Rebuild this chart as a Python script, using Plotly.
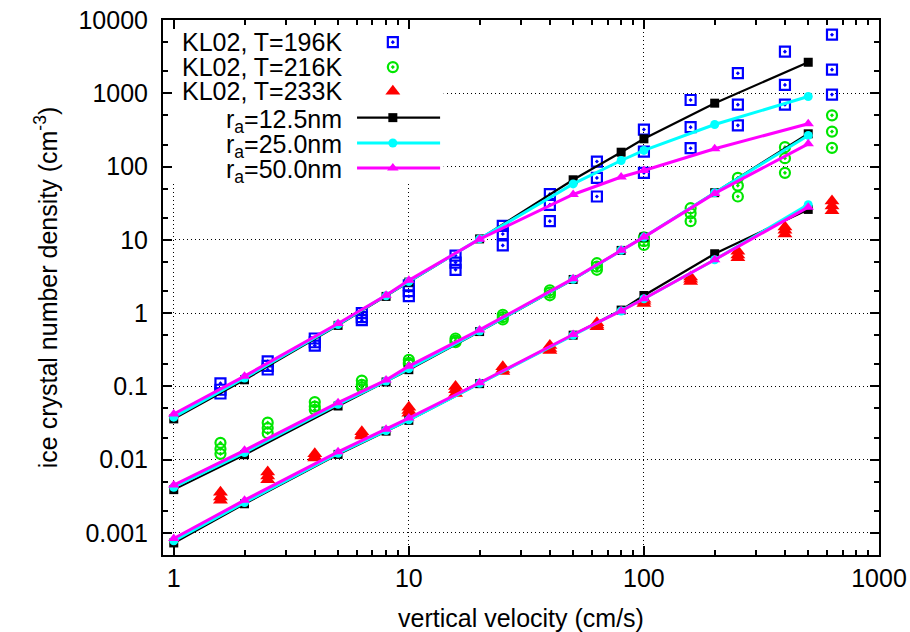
import math
import plotly.graph_objects as go

# ---------------- data ----------------
model_x = [1, 2, 5, 8, 10, 20, 50, 80, 100, 200, 500]

# T = 196K curves
m125_196 = [0.036, 0.123, 0.68, 1.69, 2.65, 10.3, 66, 157, 239, 733, 2650]
m250_196 = [0.038, 0.130, 0.70, 1.72, 2.70, 10.3, 58, 121, 166, 375, 904]
m500_196 = [0.042, 0.138, 0.72, 1.75, 2.80, 10.2, 41.6, 72, 88.5, 175, 384]
# T = 216K curves
m125_216 = [0.0039, 0.0117, 0.054, 0.115, 0.169, 0.56, 2.88, 7.17, 10.9, 44, 280]
m250_216 = [0.0042, 0.0125, 0.057, 0.118, 0.175, 0.57, 2.90, 7.20, 10.9, 44, 266]
m500_216 = [0.0045, 0.0134, 0.060, 0.122, 0.189, 0.59, 2.95, 7.20, 10.9, 43, 204]
# T = 233K curves
m125_233 = [0.00073, 0.0025, 0.0118, 0.0245, 0.0344, 0.109, 0.50, 1.10, 1.74, 6.46, 26.0]
m250_233 = [0.00078, 0.0026, 0.0122, 0.0250, 0.0350, 0.110, 0.50, 1.07, 1.57, 5.35, 30.2]
m500_233 = [0.00084, 0.0028, 0.0128, 0.0260, 0.0370, 0.112, 0.51, 1.07, 1.57, 5.35, 27.9]

# KL02 observations (several values per velocity)
obs_x = [1.58, 2.51, 3.98, 6.31, 10, 15.8, 25.1, 39.8, 63.1, 100, 158, 251, 398, 631]
obs_196 = [[0.11, 0.09, 0.08], [0.22, 0.19, 0.17], [0.45, 0.40, 0.36], [1.0, 0.88, 0.80],
           [2.4, 2.0, 1.7], [6.1, 4.9, 3.9], [15.5, 12, 8.4], [42, 30, 18],
           [117, 70, 39], [320, 160, 82], [810, 345, 178], [1880, 700, 365],
           [3700, 1300, 700], [6300, 2100, 960]]
obs_216 = [[0.017, 0.014, 0.012], [0.032, 0.027, 0.023], [0.061, 0.053, 0.048],
           [0.12, 0.105, 0.097], [0.23, 0.21, 0.20], [0.45, 0.42, 0.40],
           [0.95, 0.88, 0.82], [2.05, 1.9, 1.75], [4.8, 4.3, 3.9], [10.8, 9.6, 8.5],
           [27, 23, 18], [70, 55, 39], [184, 130, 82], [500, 300, 180]]
obs_233 = [[0.0036, 0.0031, 0.0028], [0.0068, 0.0060, 0.0053], [0.012, 0.011, 0.0105],
           [0.024, 0.022, 0.021], [0.052, 0.047, 0.043], [0.10, 0.09, 0.08],
           [0.185, 0.17, 0.16], [0.36, 0.33, 0.31], [0.74, 0.69, 0.65],
           [1.55, 1.45, 1.35], [3.1, 2.9, 2.7], [7.0, 6.2, 5.7], [15, 13.5, 12],
           [34, 29, 25]]

x_tick_vals = [1, 10, 100, 1000]
x_tick_text = ["1", "10", "100", "1000"]
y_tick_vals = [0.001, 0.01, 0.1, 1, 10, 100, 1000, 10000]
y_tick_text = ["0.001", "0.01", "0.1", "1", "10", "100", "1000", "10000"]

legend_names = ["KL02, T=196K", "KL02, T=216K", "KL02, T=233K",
                "r<sub>a</sub>=12.5nm", "r<sub>a</sub>=25.0nm", "r<sub>a</sub>=50.0nm"]

# ---------------- styles ----------------
FONT = "Liberation Sans, Arial, Helvetica, sans-serif"
BLUE, GREEN, RED = "#0000ff", "#00e600", "#ff0000"
BLACK, CYAN, MAGENTA = "#000000", "#00ffff", "#ff00ff"

X_RANGE = [math.log10(0.9), 3]
Y_RANGE = [math.log10(0.0005), 4]

obs_styles = [
    dict(symbol="square-open-dot", size=10, color=BLUE, line=dict(width=2.2, color=BLUE)),
    dict(symbol="circle-open-dot", size=10, color=GREEN, line=dict(width=2.2, color=GREEN)),
    dict(symbol="triangle-up", size=13, color=RED, line=dict(width=0)),
]
model_styles = [
    (dict(color=BLACK, width=2.2), dict(symbol="square", size=9, color=BLACK)),
    (dict(color=CYAN, width=3), dict(symbol="circle", size=9, color=CYAN)),
    (dict(color=MAGENTA, width=3), dict(symbol="triangle-up", size=10, color=MAGENTA)),
]


def flatten(xs, groups):
    fx, fy = [], []
    for x, g in zip(xs, groups):
        for v in g:
            fx.append(x)
            fy.append(v)
    return fx, fy


fig = go.Figure()

for groups, st in zip([obs_196, obs_216, obs_233], obs_styles):
    fx, fy = flatten(obs_x, groups)
    fig.add_trace(go.Scatter(x=fx, y=fy, mode="markers", marker=st, showlegend=False,
                             hoverinfo="x+y"))

model_sets = [
    [m125_196, m125_216, m125_233],
    [m250_196, m250_216, m250_233],
    [m500_196, m500_216, m500_233],
]
for curves, (ln, mk) in zip(model_sets, model_styles):
    for ys in curves:
        fig.add_trace(go.Scatter(x=model_x, y=ys, mode="lines+markers", line=ln, marker=mk,
                                 showlegend=False))

# ---------------- key (gnuplot-style: text, then sample) ----------------
KEY_BOX = (0.0, 0.392, 0.697, 1.0)   # white box behind key, in plot-area fractions
KEY_TEXT_X = 0.2514
KEY_LINE_X0, KEY_LINE_X1, KEY_MARK_X = 0.271, 0.387, 0.321
KEY_ROWS = [0.9586, 0.912, 0.8667, 0.8175, 0.7701, 0.7234]
SUB_SHIFT = -0.006


def frac_to_log_axis(f, rng):
    return 10 ** (rng[0] + f * (rng[1] - rng[0]))


bx0, bx1, by0, by1 = KEY_BOX
fig.add_shape(type="rect", xref="x", yref="y",
              x0=frac_to_log_axis(bx0, X_RANGE), x1=frac_to_log_axis(bx1, X_RANGE),
              y0=frac_to_log_axis(by0, Y_RANGE), y1=frac_to_log_axis(by1, Y_RANGE),
              fillcolor="white", line=dict(width=0), layer="between")

for i, st in enumerate(obs_styles):
    fig.add_trace(go.Scatter(x=[KEY_MARK_X], y=[KEY_ROWS[i]], mode="markers", marker=st,
                             xaxis="x2", yaxis="y2", showlegend=False, hoverinfo="skip"))
for j, (ln, mk) in enumerate(model_styles):
    r = KEY_ROWS[3 + j]
    fig.add_trace(go.Scatter(x=[KEY_LINE_X0, KEY_LINE_X1], y=[r, r], mode="lines", line=ln,
                             xaxis="x2", yaxis="y2", showlegend=False, hoverinfo="skip"))
    fig.add_trace(go.Scatter(x=[KEY_MARK_X], y=[r], mode="markers", marker=mk,
                             xaxis="x2", yaxis="y2", showlegend=False, hoverinfo="skip"))

for i, name in enumerate(legend_names):
    yy = KEY_ROWS[i] + (SUB_SHIFT if i >= 3 else 0)
    fig.add_annotation(x=KEY_TEXT_X, y=yy, xref="x domain", yref="y domain", text=name,
                       showarrow=False, xanchor="right", yanchor="middle", borderpad=0,
                       font=dict(family=FONT, size=25, color="black"))

axis_common = dict(
    type="log", showline=True, linecolor="black", linewidth=2, mirror="ticks",
    ticks="inside", ticklen=9, tickwidth=1.5, tickcolor="black",
    showgrid=True, gridcolor="black", gridwidth=1, griddash="1px,3px",
    zeroline=False, tickmode="array", automargin=False, ticklabeloverflow="allow",
    tickfont=dict(family=FONT, size=25, color="black"),
)

fig.update_layout(
    width=910, height=632, autosize=False,
    margin=dict(l=163, r=31, t=20, b=77, pad=0, autoexpand=False),
    paper_bgcolor="white", plot_bgcolor="white",
    font=dict(family=FONT, size=25, color="black"),
    showlegend=False,
    xaxis=dict(axis_common, range=X_RANGE, tickvals=x_tick_vals,
               ticktext=x_tick_text,
               minor=dict(ticks="inside", ticklen=5, tickwidth=1.5, tickcolor="black",
                          dtick="D1", showgrid=False),
               title=dict(text="vertical velocity (cm/s)", standoff=18,
                          font=dict(family=FONT, size=25, color="black"))),
    yaxis=dict(axis_common, range=Y_RANGE, tickvals=y_tick_vals,
               ticktext=y_tick_text, ticklabelstandoff=8,
               minor=dict(ticks="inside", ticklen=5, tickwidth=1.5, tickcolor="black",
                          dtick="D2", showgrid=False),
               title=dict(text="ice crystal number density (cm<sup>-3</sup>)", standoff=14,
                          font=dict(family=FONT, size=25, color="black"))),
    xaxis2=dict(overlaying="x", range=[0, 1], visible=False, fixedrange=True),
    yaxis2=dict(overlaying="y", range=[0, 1], visible=False, fixedrange=True),
)

# remove the browser's default 8px page margin so the figure fills the window exactly
fig.write_html("out.html", config={"displayModeBar": False},
               post_script="document.body.style.margin='0';")
